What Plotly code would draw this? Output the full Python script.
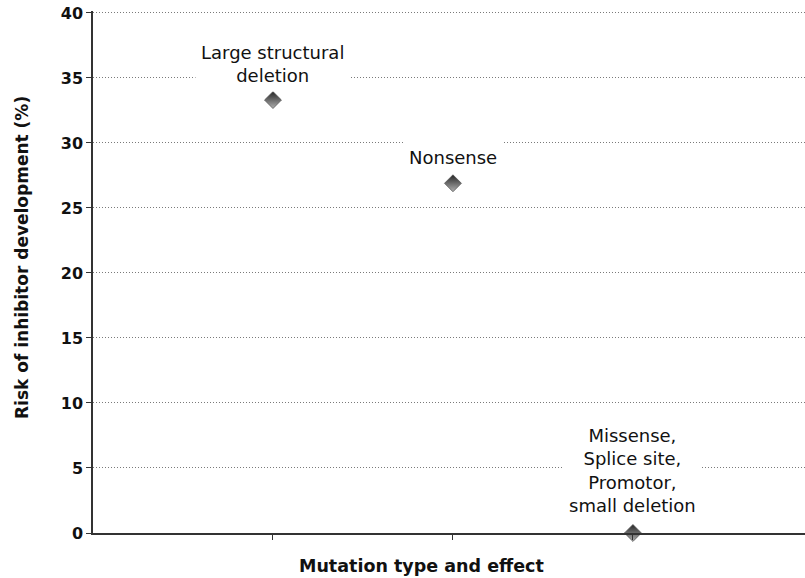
import plotly.graph_objects as go

categories = ["Large structural deletion", "Nonsense", "Missense, Splice site, Promotor, small deletion"]
labels = ["Large structural<br>deletion", "Nonsense", "Missense,<br>Splice site,<br>Promotor,<br>small deletion"]
risk = [33.3, 26.9, 0.0]
label_shift = [36, 26, 63]
y_ticks = [0, 5, 10, 15, 20, 25, 30, 35, 40]

fig = go.Figure()
fig.add_trace(go.Scatter(
    x=categories, y=risk, mode="markers", cliponaxis=False,
    marker=dict(symbol="diamond", size=13, color="#262626",
                gradient=dict(type="vertical", color="#b0b0b0"),
                line=dict(color="#555555", width=0.8)),
    showlegend=False, hoverinfo="skip"))

for c, lab, v, s in zip(categories, labels, risk, label_shift):
    fig.add_annotation(x=c, y=v, text=lab, showarrow=False, yanchor="middle",
                       yshift=s, bgcolor="white", borderpad=5,
                       font=dict(family="DejaVu Sans", size=18, color="#111111"))

plot_h = 578 - 11 - 45
fig.add_annotation(text="Mutation type and effect", xref="paper", yref="paper",
                   x=(421 - 93) / 712, y=-(566 - 533) / plot_h, yanchor="middle", showarrow=False,
                   font=dict(family="DejaVu Sans", size=17.5, color="#111111", weight="bold"))
fig.add_annotation(text="Risk of inhibitor development (%)", xref="paper", yref="paper",
                   x=-(93 - 22) / 712, xanchor="center", y=(533 - 258) / plot_h, yanchor="middle",
                   textangle=-90, showarrow=False,
                   font=dict(family="DejaVu Sans", size=17, color="#111111", weight="bold"))

fig.update_layout(
    width=805, height=578, paper_bgcolor="white", plot_bgcolor="white",
    margin=dict(l=93, r=0, t=11, b=45),
    xaxis=dict(type="category", range=[-1, 2.956], showticklabels=False,
               showgrid=False, zeroline=False, showline=True, linecolor="#333333",
               linewidth=1.5, ticks="outside", ticklen=5, tickcolor="#333333"),
    yaxis=dict(range=[0, 40.15], tickvals=y_ticks, showgrid=True, gridcolor="#7a7a7a",
               griddash="1px,2px", gridwidth=1, zeroline=False, showline=True,
               linecolor="#333333", linewidth=1.5, ticks="outside", ticklen=5,
               tickcolor="#333333",
               tickfont=dict(family="DejaVu Sans", size=16, color="#111111", weight="bold")),
)

fig.write_html("out.html", config={"displayModeBar": False},
               post_script="document.body.style.margin='0';")
